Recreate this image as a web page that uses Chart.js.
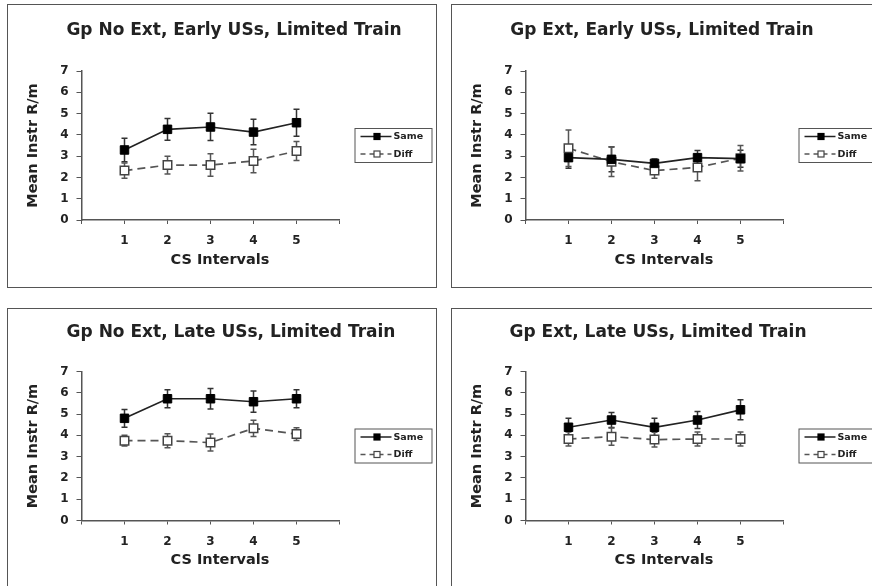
<!DOCTYPE html>
<html>
<head>
<meta charset="utf-8">
<script src="https://cdn.jsdelivr.net/npm/chart.js@4"></script>
<style>
  html, body { margin: 0; padding: 0; background: #fff; width: 872px; height: 586px; overflow: hidden; }
  .panel { position: absolute; border: 1px solid #555; width: 428px; height: 282px; background: #fff; }
  .panel canvas { position: absolute; left: 0; top: 0; }
</style>
</head>
<body>
<div class="panel" style="left:7px; top:4px"><canvas id="c0" width="428" height="282"></canvas></div>
<div class="panel" style="left:451px; top:4px"><canvas id="c1" width="428" height="282"></canvas></div>
<div class="panel" style="left:7px; top:308px"><canvas id="c2" width="428" height="282"></canvas></div>
<div class="panel" style="left:451px; top:308px"><canvas id="c3" width="428" height="282"></canvas></div>
<script>
// values (means and +/- error)
const panelTitles = [
  'Gp No Ext, Early USs, Limited Train',
  'Gp Ext, Early USs, Limited Train',
  'Gp No Ext, Late USs, Limited Train',
  'Gp Ext, Late USs, Limited Train'
];
const seriesNames = ['Same', 'Diff'];
const intervals = [1, 2, 3, 4, 5];
const xAxisTitle = 'CS Intervals';
const yAxisTitle = 'Mean Instr R/m';

const sameNoExtEarly = [3.29, 4.26, 4.37, 4.13, 4.57];
const sameNoExtEarlyErr = [0.55, 0.51, 0.64, 0.6, 0.63];
const diffNoExtEarly = [2.32, 2.58, 2.58, 2.77, 3.24];
const diffNoExtEarlyErr = [0.36, 0.42, 0.53, 0.55, 0.45];

const sameExtEarly = [2.93, 2.85, 2.66, 2.93, 2.88];
const sameExtEarlyErr = [0.5, 0.58, 0.2, 0.33, 0.4];
const diffExtEarly = [3.37, 2.74, 2.32, 2.47, 2.9];
const diffExtEarlyErr = [0.86, 0.7, 0.36, 0.63, 0.6];

const sameNoExtLate = [4.8, 5.72, 5.72, 5.58, 5.72];
const sameNoExtLateErr = [0.42, 0.42, 0.48, 0.5, 0.42];
const diffNoExtLate = [3.75, 3.75, 3.66, 4.33, 4.06];
const diffNoExtLateErr = [0.25, 0.33, 0.4, 0.38, 0.3];

const sameExtLate = [4.38, 4.72, 4.38, 4.72, 5.2];
const sameExtLateErr = [0.42, 0.35, 0.42, 0.4, 0.47];
const diffExtLate = [3.83, 3.94, 3.8, 3.83, 3.83];
const diffExtLateErr = [0.33, 0.4, 0.35, 0.33, 0.33];

const FONT = "'DejaVu Sans', Verdana, sans-serif";
const TEXT = '#222';

// title centre (canvas coords) and chart top per panel
const titlePos = [[226, 26], [210, 26], [223, 24], [206, 24]];
const plotTop = [66, 66, 62.5, 62.5];

// error bars, panel title, x title, legend box
const panelDecor = {
  id: 'panelDecor',
  beforeDatasetsDraw(chart) {
    const ctx = chart.ctx;
    const ys = chart.scales.y;
    ctx.save();
    chart.data.datasets.forEach((ds, i) => {
      const meta = chart.getDatasetMeta(i);
      ctx.strokeStyle = ds.errColor;
      ctx.lineWidth = 1.5;
      meta.data.forEach((pt, j) => {
        const v = ds.data[j].y, e = ds.errors[j];
        const top = ys.getPixelForValue(v + e);
        const bot = ys.getPixelForValue(v - e);
        ctx.beginPath();
        ctx.moveTo(pt.x, top); ctx.lineTo(pt.x, bot);
        ctx.moveTo(pt.x - 3, top); ctx.lineTo(pt.x + 3, top);
        ctx.moveTo(pt.x - 3, bot); ctx.lineTo(pt.x + 3, bot);
        ctx.stroke();
      });
    });
    ctx.restore();
  },
  afterDraw(chart, args, opts) {
    const ctx = chart.ctx;
    const area = chart.chartArea;
    ctx.save();
    ctx.fillStyle = TEXT;
    ctx.textAlign = 'center';
    ctx.textBaseline = 'middle';
    ctx.font = 'bold 17px ' + FONT;
    ctx.fillText(opts.title, opts.titleX, opts.titleY);
    ctx.font = 'bold 14.5px ' + FONT;
    ctx.fillText(xAxisTitle, area.left + 138.5, area.bottom + 40);

    // legend
    const lx = area.right + 15, ly = area.top + 57;
    ctx.strokeStyle = '#555';
    ctx.lineWidth = 1;
    ctx.strokeRect(lx + 0.5, ly + 0.5, 77, 34);
    chart.data.datasets.forEach((ds, i) => {
      const y = ly + 8.5 + i * 17.5;
      ctx.strokeStyle = ds.borderColor;
      ctx.lineWidth = 1.5;
      ctx.setLineDash(ds.borderDash ? [5, 4] : []);
      ctx.beginPath();
      ctx.moveTo(lx + 6, y); ctx.lineTo(lx + 37, y);
      ctx.stroke();
      ctx.setLineDash([]);
      ctx.fillStyle = ds.pointBackgroundColor;
      ctx.strokeStyle = ds.pointBorderColor;
      ctx.lineWidth = 1.2;
      ctx.fillRect(lx + 19.5, y - 3, 6, 6);
      ctx.strokeRect(lx + 19.5, y - 3, 6, 6);
      ctx.fillStyle = TEXT;
      ctx.textAlign = 'left';
      ctx.font = 'bold 9.5px ' + FONT;
      ctx.fillText(ds.label, lx + 39, y + 0.5);
    });
    ctx.restore();
  }
};

function makeDataset(name, values, errors, dashed) {
  return {
    label: name,
    data: intervals.map((x, i) => ({ x: x, y: values[i] })),
    errors: errors,
    errColor: dashed ? '#555' : '#333',
    borderColor: dashed ? '#555' : '#222',
    borderWidth: 1.7,
    borderDash: dashed ? [8, 5] : undefined,
    pointStyle: 'rect',
    pointRadius: 6,
    pointBorderWidth: dashed ? 1.5 : 1,
    pointBackgroundColor: dashed ? '#fff' : '#000',
    pointBorderColor: dashed ? '#444' : '#000',
    tension: 0
  };
}

function makeChart(id, k, same, sameErr, diff, diffErr) {
  const top = plotTop[k];
  const xH = 50;
  new Chart(document.getElementById(id), {
    type: 'line',
    data: {
      datasets: [
        makeDataset(seriesNames[0], same, sameErr, false),
        makeDataset(seriesNames[1], diff, diffErr, true)
      ]
    },
    options: {
      responsive: false,
      animation: false,
      layout: { padding: { left: 0, top: top, right: 96.5, bottom: 282 - (top + 149) - xH } },
      plugins: {
        legend: { display: false },
        tooltip: { enabled: false },
        panelDecor: { title: panelTitles[k], titleX: titlePos[k][0], titleY: titlePos[k][1] }
      },
      scales: {
        x: {
          type: 'linear',
          min: 0, max: 6,
          afterFit(s) { s.height = xH; },
          grid: { drawOnChartArea: false, drawTicks: true, tickLength: 4, color: '#555' },
          border: { color: '#555', width: 1.5 },
          ticks: {
            stepSize: 1,
            padding: 10,
            color: TEXT,
            font: { family: FONT, size: 12, weight: 'bold' },
            callback: v => intervals.includes(v) ? String(v) : ''
          }
        },
        y: {
          min: 0, max: 7,
          afterFit(s) { s.width = 73.5; },
          grid: { drawOnChartArea: false, drawTicks: true, tickLength: 5, color: '#555' },
          border: { color: '#555', width: 1.5 },
          ticks: {
            stepSize: 1,
            padding: 8,
            color: TEXT,
            font: { family: FONT, size: 12, weight: 'bold' }
          },
          title: {
            display: true,
            text: yAxisTitle,
            color: TEXT,
            padding: { top: 17, bottom: 0 },
            font: { family: FONT, size: 14.5, weight: 'bold' }
          }
        }
      }
    },
    plugins: [panelDecor]
  });
}

makeChart('c0', 0, sameNoExtEarly, sameNoExtEarlyErr, diffNoExtEarly, diffNoExtEarlyErr);
makeChart('c1', 1, sameExtEarly, sameExtEarlyErr, diffExtEarly, diffExtEarlyErr);
makeChart('c2', 2, sameNoExtLate, sameNoExtLateErr, diffNoExtLate, diffNoExtLateErr);
makeChart('c3', 3, sameExtLate, sameExtLateErr, diffExtLate, diffExtLateErr);
</script>
</body>
</html>
